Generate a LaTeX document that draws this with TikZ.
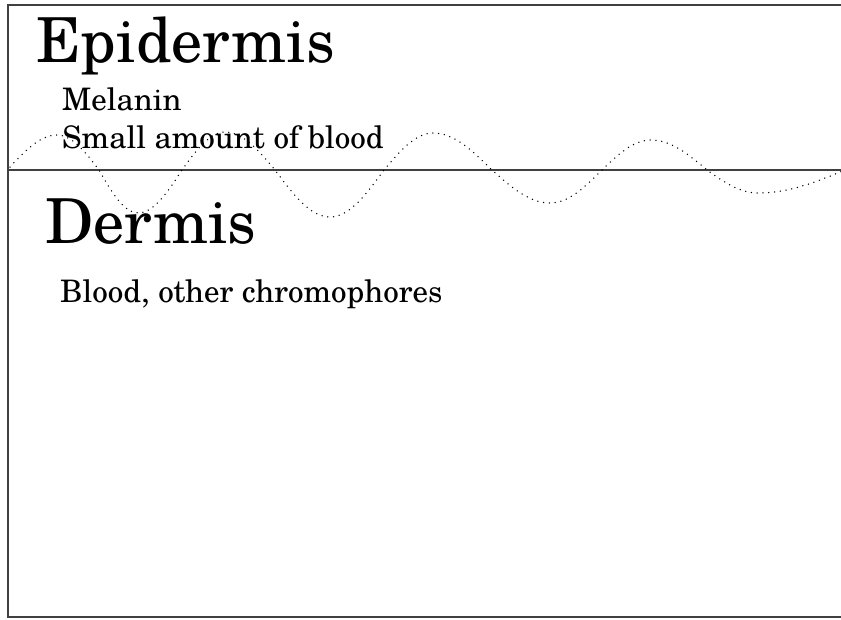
\documentclass[tikz,border=0pt]{standalone}
\usepackage{fontspec}
\IfFontExistsTF{TeX Gyre Schola}{\setmainfont{TeX Gyre Schola}}{\setmainfont{Liberation Serif}}
\begin{document}
\begin{tikzpicture}[x=1pt,y=-1pt,
  frameline/.style={draw=black!75,line width=1.2pt},
  wave/.style={draw=black,line width=1.5pt,line cap=round,dash pattern=on 0pt off 5.8pt},
  big/.style={anchor=base west,inner sep=0pt,font=\fontsize{62}{68}\selectfont},
  small/.style={anchor=base west,inner sep=0pt,font=\fontsize{31}{36}\selectfont}]
\useasboundingbox (0,0) rectangle (841,619);
% frame
\draw[frameline] (843,5) -- (8,5) -- (8,617) -- (843,617);
\draw[frameline] (8,170) -- (843,170);
% wave
\draw[wave] (10,167) sin (57,135) cos (99,170) sin (138,213) cos (182,170)
  sin (225,132) cos (275,170) sin (330,217) cos (384,170) sin (433,133)
  cos (492,170) sin (550,203) cos (602,170) sin (651,140) cos (707,170)
  sin (758,193) cos (845,170);
% texts
\node[big] (epi) at (36,62) {Epidermis};
\node[small] (mel) at (62,110) {Melanin};
\node[small] (sab) at (62,148) {Small amount of blood};
\node[big] (der) at (45,243) {Dermis};
\node[small] (boc) at (60,302) {Blood, other chromophores};
\end{tikzpicture}
\end{document}
